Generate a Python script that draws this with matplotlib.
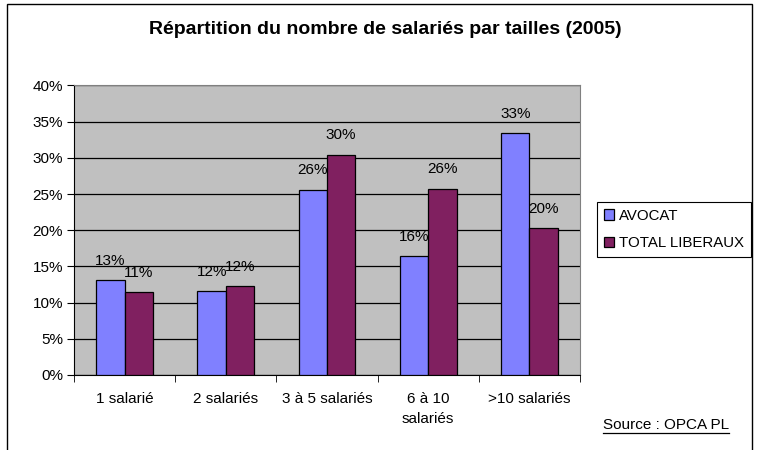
import matplotlib
matplotlib.use("Agg")
import matplotlib.pyplot as plt
import numpy as np
from matplotlib.patches import Rectangle

plt.rcParams['font.family'] = ['Liberation Sans', 'DejaVu Sans']

categories = ["1 salarié", "2 salariés", "3 à 5 salariés", "6 à 10\nsalariés", ">10 salariés"]
avocat = [13.1, 11.6, 25.6, 16.4, 33.4]
total_liberaux = [11.4, 12.3, 30.4, 25.7, 20.3]
series_names = ["AVOCAT", "TOTAL LIBERAUX"]
y_ticks = [0, 5, 10, 15, 20, 25, 30, 35, 40]

fig = plt.figure(figsize=(7.58, 4.5), dpi=100)
# outer frame, bottom edge falls outside the picture like the reference
fig.patches.append(Rectangle((7 / 758, -0.05), 745 / 758, 1.05 - 4 / 450, transform=fig.transFigure,
                             fill=False, edgecolor='black', lw=1.0))

ax = fig.add_axes([74 / 758, 75 / 450, 506 / 758, 289.6 / 450])
ax.set_facecolor('#C0C0C0')

x = np.arange(len(categories))
w = 0.28
b1 = ax.bar(x - w / 2, avocat, w, color='#8080FF', edgecolor='black', lw=0.9, label=series_names[0], zorder=3)
b2 = ax.bar(x + w / 2, total_liberaux, w, color='#802060', edgecolor='black', lw=0.9, label=series_names[1], zorder=3)

for bars, vals in ((b1, avocat), (b2, total_liberaux)):
    for rect, v in zip(bars, vals):
        ax.annotate("{:.0f}%".format(v), (rect.get_x() + rect.get_width() / 2, v),
                    xytext=(0, 14), textcoords='offset points', ha='center', va='center', fontsize=11)

ax.set_xlim(-0.5, len(categories) - 0.5)
ax.set_ylim(0, 40)
ax.set_yticks(y_ticks)
ax.set_yticklabels(["{}%".format(t) for t in y_ticks], fontsize=11)
ax.yaxis.grid(True, color='black', lw=0.9, zorder=0)
ax.set_axisbelow(True)

ax.set_xticks(x)
ax.set_xticklabels(categories, fontsize=11, linespacing=1.6, va='top')
ax.set_xticks(np.arange(-0.5, len(categories)), minor=True)
ax.tick_params(axis='x', which='major', length=0, pad=12)
ax.tick_params(axis='x', which='minor', length=5, direction='out')
ax.tick_params(axis='y', length=5, direction='out', pad=3)

for side in ('top', 'right'):
    ax.spines[side].set_color('#808080')
for side in ('left', 'bottom'):
    ax.spines[side].set_color('black')

fig.text(0.508, 1 - 30 / 450, "Répartition du nombre de salariés par tailles (2005)", ha='center', va='center',
         fontsize=14, fontweight='bold')

leg = ax.legend(loc='upper left', bbox_to_anchor=(597 / 758, 1 - 202 / 450), bbox_transform=fig.transFigure,
                fancybox=False, edgecolor='black', framealpha=1, fontsize=10.8,
                handlelength=0.7, handleheight=0.7, handletextpad=0.3, borderpad=0.45, labelspacing=0.9,
                borderaxespad=0)
leg.get_frame().set_linewidth(0.8)

src = fig.text(729 / 758, 1 - 425 / 450, "Source : OPCA PL", ha='right', va='center', fontsize=11)
fig.canvas.draw()
bb = src.get_window_extent()
fig.add_artist(plt.Line2D([bb.x0 / 758, bb.x1 / 758], [(bb.y0 - 1) / 450, (bb.y0 - 1) / 450],
                          transform=fig.transFigure, color='black', lw=0.9))

fig.savefig("out.png", dpi=100)
